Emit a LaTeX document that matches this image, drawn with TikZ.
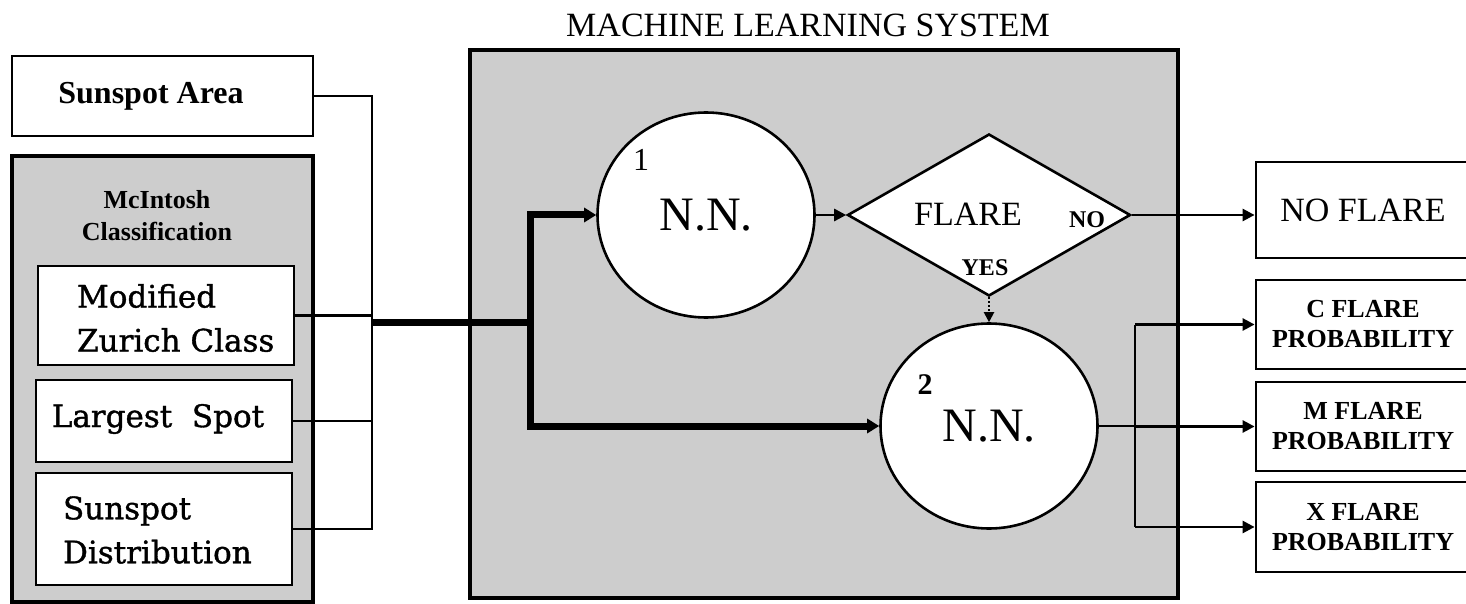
\documentclass[tikz,border=0pt]{standalone}
\usepackage{fontspec}
\setmainfont{Liberation Serif}
\newfontfamily\slabfont[FakeBold=1.2]{DejaVu Serif}
\usetikzlibrary{arrows.meta,shapes.geometric}
\definecolor{panelgray}{RGB}{205,205,205}
\begin{document}
\begin{tikzpicture}[x=0.5pt,y=-0.5pt,
  box/.style={draw,line width=1.4pt,fill=white,rectangle,inner sep=0pt},
  panel/.style={draw,line width=1.6pt,fill=panelgray,rectangle,inner sep=0pt},
  conn/.style={line width=1.3pt},
  busthick/.style={line width=3.5pt},
  arr/.style={-{Triangle[length=6pt,width=6pt]}},
  arrbig/.style={-{Triangle[length=6pt,width=7pt]}},
  nn/.style={draw,ellipse,fill=white,line width=1.3pt,minimum width=108.5pt,minimum height=102.5pt,inner sep=0pt,font=\fontsize{24}{28}\selectfont},
  outbox/.style={box,minimum width=107pt,align=center,font=\bfseries\fontsize{13}{15}\selectfont},
  slabtext/.style={font=\slabfont\fontsize{15.5}{22}\selectfont}]
\useasboundingbox (0,0) rectangle (1466,604);

% left side
\node[box,minimum width=150.5pt,minimum height=40pt] (sa) at (162.5,96) {};
\node[font=\bfseries\fontsize{16}{19}\selectfont] (satext) at (151,96) {Sunspot Area};
\node[panel,minimum width=150.5pt,minimum height=223pt] (mc) at (162.5,379) {};
\node[align=center,font=\bfseries\fontsize{13}{16}\selectfont] (mctitle) at (157,216) {McIntosh\\Classification};
\node[box,minimum width=128pt,minimum height=49.5pt] (mzc) at (166,315.5) {};
\node[anchor=west,align=left,slabtext] (mzctext) at (70,318) {Modified\\Zurich Class};
\node[box,minimum width=128pt,minimum height=41pt] (ls) at (164,421) {};
\node[slabtext] (lstext) at (158,419) {Largest\ \ Spot};
\node[box,minimum width=128pt,minimum height=56pt] (sd) at (164,529) {};
\node[anchor=west,align=left,slabtext] (sdtext) at (56,530) {Sunspot\\Distribution};

% machine learning system
\node[font=\fontsize{17}{20}\selectfont] (title) at (808,25) {MACHINE LEARNING SYSTEM};
\node[panel,line width=2pt,minimum width=354pt,minimum height=274pt] (ml) at (824,324) {};
\node[nn] (nn1) at (706,215) {N.N.};
\node[nn] (nn2) at (989,426) {N.N.};
\node[font=\fontsize{16}{18}\selectfont] (n1) at (641,160) {1};
\node[font=\bfseries\fontsize{15}{18}\selectfont] (n2) at (925,385) {2};
\node[draw,diamond,fill=white,line width=1.3pt,minimum width=141.5pt,minimum height=81pt,inner sep=0pt] (dia) at (989,215) {};
\node[font=\fontsize{17}{20}\selectfont] (flare) at (968,214) {FLARE};
\node[font=\bfseries\fontsize{12}{14}\selectfont] (no) at (1087,220) {NO};
\node[font=\bfseries\fontsize{12}{14}\selectfont] (yes) at (985,268) {YES};

% outputs
\node[box,minimum width=107pt,minimum height=48pt,font=\fontsize{17}{20}\selectfont] (nf) at (1363,210) {NO FLARE};
\node[outbox,minimum height=44.5pt] (cf) at (1363,324.5) {C FLARE\\PROBABILITY};
\node[outbox,minimum height=44.5pt] (mf) at (1363,426.5) {M FLARE\\PROBABILITY};
\node[outbox,minimum height=45pt] (xf) at (1363,527) {X FLARE\\PROBABILITY};

% input bus
\coordinate (btop) at (372,96);
\coordinate (bbot) at (372,529);
\coordinate (bmid) at (372,322);
\coordinate (split) at (530,322);
\draw[conn] (sa.east) -- (btop) -- (bbot) -- (sd.east);
\draw[conn] (mzc.east) -- (mzc.east -| btop);
\draw[conn] (ls.east) -- (ls.east -| btop);
\draw[busthick] (bmid) -- (split);
\draw[busthick,arrbig] (split) |- (nn1.west);
\draw[busthick,arrbig] (split) |- (nn2.west);

% internal flow
\draw[conn,arr] (nn1.east) -- (dia.west);
\draw[line width=1pt,densely dotted,-{Triangle[length=5pt,width=5pt]}] (dia.south) -- (nn2.north);
\draw[conn,arr] (dia.east) -- (dia.east -| nf.west);

% output bus
\coordinate (rb) at (1135,426);
\draw[conn] (nn2.east) -- (rb);
\draw[conn] (rb |- cf.west) -- (rb |- xf.west);
\draw[conn,arr] (rb |- cf.west) -- (cf.west);
\draw[conn,arr] (rb |- mf.west) -- (mf.west);
\draw[conn,arr] (rb |- xf.west) -- (xf.west);
\end{tikzpicture}
\end{document}
